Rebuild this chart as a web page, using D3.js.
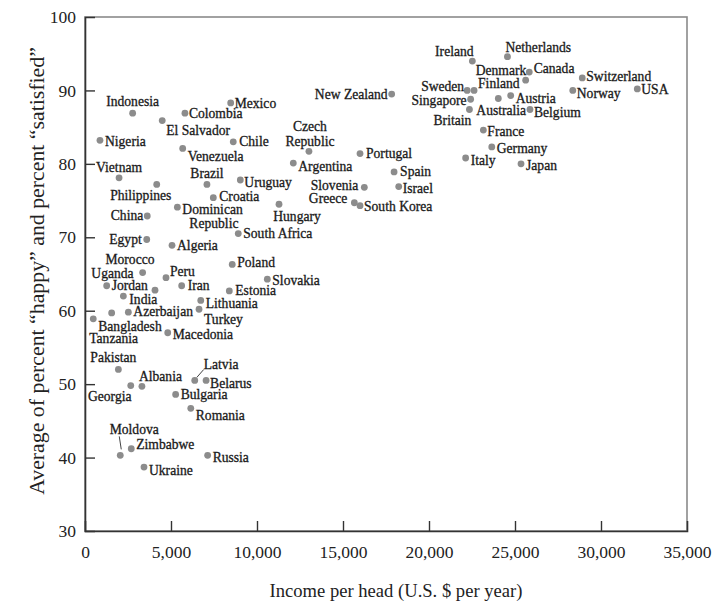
<!DOCTYPE html>
<html>
<head>
<meta charset="utf-8">
<script src="https://cdn.jsdelivr.net/npm/d3@7"></script>
<style>
  html, body { margin: 0; padding: 0; background: #fff; }
  svg { display: block; }
</style>
</head>
<body>
<svg id="chart" width="724" height="603"></svg>
<script>
// ---------- DATA ----------
const countries = [
  "Indonesia","El Salvador","Colombia","Mexico","Nigeria","Chile","Venezuela","Vietnam",
  "Philippines","Brazil","Uruguay","Croatia","Dominican Republic","China","Hungary",
  "South Africa","Egypt","Algeria","Poland","Uganda","Morocco","Peru","Jordan","Iran",
  "India","Azerbaijan","Tanzania","Bangladesh","Macedonia","Estonia","Slovakia","Lithuania",
  "Turkey","Pakistan","Georgia","Albania","Latvia","Belarus","Bulgaria","Romania","Moldova",
  "Zimbabwe","Ukraine","Russia","New Zealand","Czech Republic","Argentina","Portugal","Spain",
  "Slovenia","Israel","Greece","South Korea","Ireland","Netherlands","Denmark","Canada",
  "Switzerland","Norway","USA","Sweden","Finland","Singapore","Britain","Australia","Austria",
  "Belgium","France","Germany","Italy","Japan"
];
const income = [
  2770,4490,5810,8470,870,8620,5680,1980,
  4170,7090,9030,7460,5370,3620,11280,
  8910,3590,5060,8560,3350,4070,4710,1260,5620,
  2230,2520,1550,480,4810,8390,10600,6730,
  6630,1940,2660,3310,6380,7040,5270,6150,2050,
  2690,3430,7130,17830,13020,12110,15990,17970,
  16240,18240,15660,15990,22520,24560,25830,25620,
  28910,28360,32110,22220,22620,22420,22350,24030,24750,
  25870,23160,23650,22130,25350
];
const happiness = [
  86.9,85.9,86.9,88.3,83.2,83.0,82.1,78.1,
  77.2,77.2,77.8,75.4,74.1,72.9,74.5,
  70.5,69.7,68.9,66.3,65.2,62.8,64.5,63.4,63.4,
  62.0,59.8,59.7,58.9,57.0,62.7,64.3,61.4,
  60.2,52.0,49.8,49.7,50.5,50.5,48.6,46.7,40.3,
  41.2,38.7,40.3,89.5,81.7,80.1,81.4,78.9,
  76.8,76.9,74.7,74.3,94.0,94.6,92.5,91.4,
  91.7,90.0,90.2,90.0,90.0,88.8,87.4,88.9,89.3,
  87.4,84.6,82.3,80.8,80.0
];
const xTicks = [0,5000,10000,15000,20000,25000,30000,35000];
const yTicks = [30,40,50,60,70,80,90,100];
const xTitle = "Income per head (U.S. $ per year)";
const yTitle = "Average of percent \u201chappy\u201d and percent \u201csatisfied\u201d";

// ---------- LABEL LAYOUT (pixel offsets from the dot) ----------
// [dx, dy, anchor, optional first-line text, optional second line [dx,dy,text]]
const labelPlace = {
  "Indonesia":[0,-12,"middle"], "El Salvador":[4,10,"start"], "Colombia":[4,0,"start"],
  "Mexico":[4,1,"start"], "Nigeria":[5,1,"start"], "Chile":[6,0,"start"],
  "Venezuela":[5,8,"start"], "Vietnam":[0,-10,"middle"], "Philippines":[-16,11,"middle"],
  "Brazil":[0,-11,"middle"], "Uruguay":[4,2,"start"], "Croatia":[6,-1,"start"],
  "Dominican Republic":[5,2,"start","Dominican",[12,16,"Republic"]],
  "China":[-4,0,"end"], "Hungary":[18,12,"middle"], "South Africa":[5,0,"start"],
  "Egypt":[-5,0,"end"], "Algeria":[5,0,"start"], "Poland":[5,-2,"start"],
  "Uganda":[-9,1,"end"], "Morocco":[-25,-31,"middle"], "Peru":[4,-6,"start"],
  "Jordan":[5,0,"start"], "Iran":[6,0,"start"], "India":[6,3,"start"],
  "Azerbaijan":[5,-1,"start"], "Tanzania":[2,26,"middle"], "Bangladesh":[5,8,"start"],
  "Macedonia":[5,2,"start"], "Estonia":[6,0,"start"], "Slovakia":[5,1,"start"],
  "Lithuania":[5,3,"start"], "Turkey":[5,10,"start"], "Pakistan":[-5,-12,"middle"],
  "Georgia":[-21,11,"middle"], "Albania":[-3,-10,"start"], "Latvia":[9,-16,"start"],
  "Belarus":[4,3,"start"], "Bulgaria":[5,0,"start"], "Romania":[5,7,"start"],
  "Moldova":[14,-26,"middle"], "Zimbabwe":[5,-4,"start"], "Ukraine":[5,3,"start"],
  "Russia":[5,2,"start"], "New Zealand":[-4,0,"end"],
  "Czech Republic":[1,-25,"middle","Czech",[1,-10,"Republic"]],
  "Argentina":[5,3,"start"], "Portugal":[6,0,"start"], "Spain":[6,0,"start"],
  "Slovenia":[-6,-2,"end"], "Israel":[4,2,"start"], "Greece":[-7,-4,"end"],
  "South Korea":[4,1,"start"], "Ireland":[-18,-10,"middle"], "Netherlands":[-2,-9,"start"],
  "Denmark":[-3,-2,"end"], "Canada":[8,-12,"start"], "Switzerland":[4,-1,"start"],
  "Norway":[4,3,"start"], "USA":[4,1,"start"], "Sweden":[-3,-4,"end"],
  "Finland":[4,-7,"start"], "Singapore":[-4,1,"end"], "Britain":[-17,11,"middle"],
  "Australia":[-22,12,"start"], "Austria":[5,3,"start"], "Belgium":[4,3,"start"],
  "France":[4,1,"start"], "Germany":[5,2,"start"], "Italy":[5,3,"start"], "Japan":[5,2,"start"]
};
const leaders = { "Latvia":[[2,-3],[9,-11]], "Moldova":[[-1,-19],[1,-6]] };

// ---------- CHART ----------
const svg = d3.select("#chart");
const serif = "'Liberation Serif','Times New Roman',serif";
const x = d3.scaleLinear().domain([0,35000]).range([85,687]);
const y = d3.scaleLinear().domain([30,100]).range([531,17]);

// frame
svg.append("rect")
  .attr("x", x(0)).attr("y", y(100))
  .attr("width", x(35000)-x(0)).attr("height", y(30)-y(100))
  .attr("fill","none").attr("stroke","#8a8a8a").attr("stroke-width",1.6);

// axes
const fmt = d3.format(",");
const gx = svg.append("g").attr("transform",`translate(0,${y(30)})`)
  .call(d3.axisBottom(x).tickValues(xTicks).tickSize(-10).tickPadding(15).tickFormat(fmt));
const gy = svg.append("g").attr("transform",`translate(${x(0)},0)`)
  .call(d3.axisLeft(y).tickValues(yTicks).tickSize(-10).tickPadding(9));
[gx,gy].forEach(g=>{
  g.select(".domain").attr("stroke","#333").attr("stroke-width",1.6);
  g.selectAll(".tick line").attr("stroke","#333").attr("stroke-width",1.4);
  g.selectAll(".tick text").attr("font-family",serif).attr("font-size",17.5).attr("fill","#222");
});
gx.selectAll(".tick").filter(d=>d===0||d===35000).select("line").remove();
gy.selectAll(".tick").filter(d=>d===30||d===100).select("line").remove();

// leader lines
Object.keys(leaders).forEach(name=>{
  const i = countries.indexOf(name);
  const [a,b] = leaders[name];
  svg.append("line")
    .attr("x1", x(income[i])+a[0]).attr("y1", y(happiness[i])+a[1])
    .attr("x2", x(income[i])+b[0]).attr("y2", y(happiness[i])+b[1])
    .attr("stroke","#444").attr("stroke-width",1);
});

// dots
svg.append("g").selectAll("circle").data(countries).join("circle")
  .attr("cx",(d,i)=>x(income[i])).attr("cy",(d,i)=>y(happiness[i]))
  .attr("r",3.4).attr("fill","#8c8c8c");

// labels
const lg = svg.append("g").attr("font-family",serif).attr("font-size",13.6)
  .attr("fill","#1a1a1a").attr("stroke","#1a1a1a").attr("stroke-width",0.3);
countries.forEach((name,i)=>{
  const p = labelPlace[name] || [5,0,"start"];
  const cx = x(income[i]), cy = y(happiness[i]);
  lg.append("text").attr("x",cx+p[0]).attr("y",cy+p[1])
    .attr("text-anchor",p[2]).attr("dominant-baseline","central")
    .text(p[3] || name);
  if (p[4]) {
    lg.append("text").attr("x",cx+p[4][0]).attr("y",cy+p[4][1])
      .attr("text-anchor",p[2]).attr("dominant-baseline","central")
      .text(p[4][2]);
  }
});

// axis titles
function fitText(sel, target){
  const w = sel.node().getComputedTextLength();
  const fs = parseFloat(sel.attr("font-size"));
  sel.attr("font-size", fs*target/w);
}
const xt = svg.append("text").attr("x",396).attr("y",597)
  .attr("text-anchor","middle").attr("font-family",serif).attr("font-size",17)
  .attr("fill","#222").text(xTitle);
fitText(xt, 253);
const yt = svg.append("text").attr("transform","translate(44,271) rotate(-90)")
  .attr("text-anchor","middle").attr("font-family",serif).attr("font-size",18)
  .attr("fill","#222").text(yTitle);
fitText(yt, 448);
</script>
</body>
</html>
